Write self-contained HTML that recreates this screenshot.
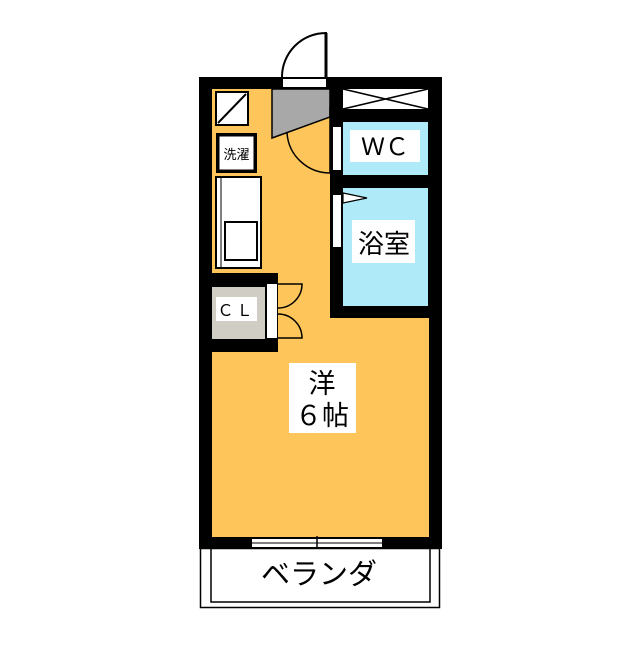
<!DOCTYPE html>
<html><head><meta charset="utf-8"><style>
body{margin:0;background:#fff}
svg text{font-family:"Liberation Sans","Noto Sans CJK JP",sans-serif}
</style></head><body>
<svg width="640" height="640" viewBox="0 0 640 640" xmlns="http://www.w3.org/2000/svg">
<rect width="640" height="640" fill="#fff"/>
<!-- outer walls -->
<rect x="199" y="77" width="243" height="472" fill="#000"/>
<rect x="212" y="89" width="217" height="448" fill="#fdc55a"/>
<!-- entry door opening -->
<rect x="282" y="77" width="44" height="12" fill="#000"/>
<rect x="283" y="79" width="43" height="8" fill="#fff"/>
<path d="M326,77 L326,33 A44,44 0 0 0 282,77" fill="none" stroke="#000" stroke-width="2"/>
<line x1="326" y1="33" x2="326" y2="77" stroke="#000" stroke-width="3"/>
<!-- gray entry -->
<polygon points="272,89 330,89 330,117 272,138" fill="#a8a8a8" stroke="#000" stroke-width="1.5"/>
<path d="M287,133 A43,43 0 0 0 330,173" fill="none" stroke="#000" stroke-width="1.5"/>
<line x1="330" y1="107" x2="330" y2="173" stroke="#000" stroke-width="1.5"/>
<!-- right block walls -->
<rect x="330" y="89" width="99" height="229" fill="#000"/>
<rect x="343" y="89" width="85" height="20" fill="#fff"/>
<path d="M343,89 L428,109 M428,89 L343,109" stroke="#000" stroke-width="1.5"/>
<rect x="343" y="122" width="85" height="53" fill="#aeeaf7"/>
<rect x="343" y="188" width="85" height="118" fill="#aeeaf7"/>
<rect x="333" y="127" width="8" height="43" fill="#fff"/>
<rect x="333" y="195" width="8" height="52" fill="#fff"/>
<polygon points="343,193 367,198 343,203" fill="#fff" stroke="#000" stroke-width="1.2"/>
<rect x="350" y="130" width="70" height="32" fill="#fff"/>
<text x="385" y="155" font-size="24" text-anchor="middle">ＷＣ</text>
<rect x="352" y="220" width="63" height="43" fill="#fff"/>
<text x="384" y="253" font-size="26" text-anchor="middle">浴室</text>
<!-- left fixtures -->
<rect x="216" y="92" width="32" height="33" fill="#fff" stroke="#000" stroke-width="2"/>
<line x1="218" y1="123" x2="246" y2="94" stroke="#000" stroke-width="2"/>
<rect x="216" y="133" width="41" height="40" fill="#000"/>
<rect x="219" y="136" width="35" height="34" fill="#fff" stroke="#000" stroke-width="1"/>
<text x="236.5" y="159" font-size="13" text-anchor="middle">洗濯</text>
<rect x="216" y="177" width="45" height="91" fill="#fff" stroke="#000" stroke-width="2"/>
<line x1="221" y1="178" x2="221" y2="267" stroke="#000" stroke-width="1"/>
<rect x="225" y="222" width="32" height="38" fill="#fff" stroke="#000" stroke-width="2"/>
<!-- CL -->
<rect x="212" y="273" width="66" height="79" fill="#000"/>
<rect x="212" y="287" width="53" height="52" fill="#d0cec4"/>
<rect x="216" y="297" width="41" height="24" fill="#fff"/>
<text x="236.5" y="316" font-size="16" text-anchor="middle" letter-spacing="3">ＣＬ</text>
<rect x="267" y="284" width="10" height="54" fill="#fff"/>
<path d="M278,284 L302,284 A24,24 0 0 1 278,308" fill="none" stroke="#000" stroke-width="1.5"/>
<path d="M278,338 L302,338 A24,24 0 0 0 278,314" fill="none" stroke="#000" stroke-width="1.5"/>
<!-- room label -->
<rect x="289" y="363" width="67" height="70" fill="#fff"/>
<text x="322" y="393" font-size="27" text-anchor="middle">洋</text>
<text x="322" y="425" font-size="27" text-anchor="middle">６帖</text>
<!-- window -->
<rect x="252" y="539" width="130" height="8" fill="#fff"/>
<line x1="252" y1="543" x2="382" y2="543" stroke="#000" stroke-width="1"/>
<line x1="317" y1="536" x2="317" y2="549" stroke="#000" stroke-width="1.5"/>
<!-- veranda -->
<rect x="200.5" y="548.5" width="239" height="59" fill="none" stroke="#000" stroke-width="1.5"/>
<path d="M211,549 L211,602 L430,602 L430,549" fill="none" stroke="#000" stroke-width="1.5"/>
<text x="319" y="584" font-size="29" text-anchor="middle">ベランダ</text>
</svg>
</body></html>
